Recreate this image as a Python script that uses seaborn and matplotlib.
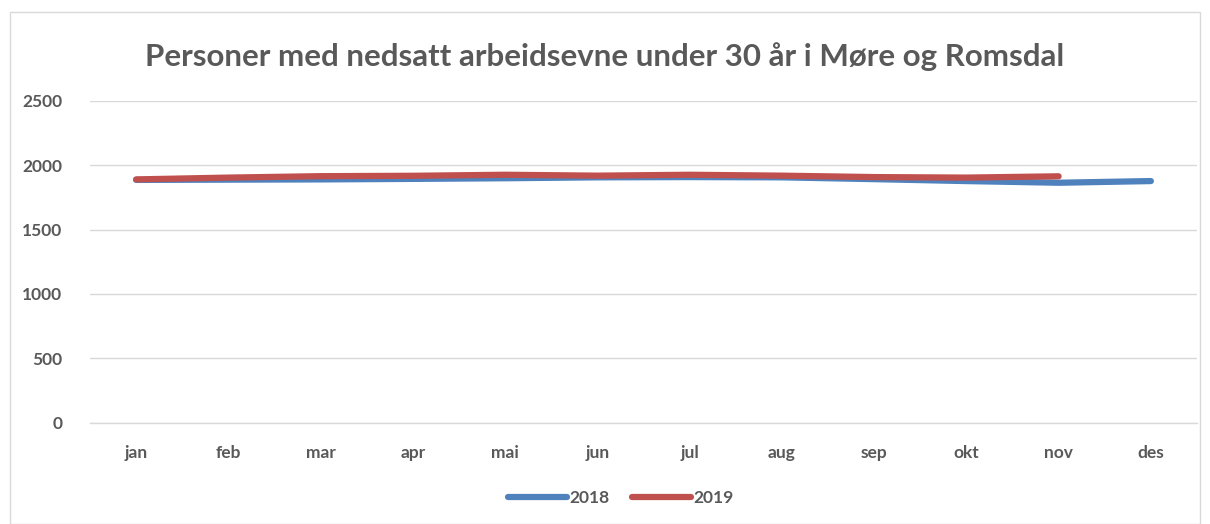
import matplotlib
matplotlib.use("Agg")
import matplotlib.pyplot as plt
import seaborn as sns
import pandas as pd
from matplotlib.patches import Rectangle
from matplotlib.lines import Line2D

months = ["jan", "feb", "mar", "apr", "mai", "jun", "jul", "aug", "sep", "okt", "nov", "des"]
values_2018 = [1885, 1887, 1889, 1893, 1898, 1905, 1907, 1905, 1891, 1876, 1863, 1876]
values_2019 = [1889, 1903, 1914, 1917, 1925, 1918, 1925, 1918, 1907, 1903, 1913]
years = ["2018", "2019"]
yticks = [0, 500, 1000, 1500, 2000, 2500]

rows = []
for m_i, v in enumerate(values_2018):
    rows.append({"x": m_i, "value": v, "year": years[0]})
for m_i, v in enumerate(values_2019):
    rows.append({"x": m_i, "value": v, "year": years[1]})
df = pd.DataFrame(rows)

sns.set_theme(style="white")
plt.rcParams["font.family"] = ["Lato", "DejaVu Sans"]

gray = "#595959"
fig = plt.figure(figsize=(12.10, 5.24), dpi=100)
ax = fig.add_axes([90 / 1210, 1 - 422.7 / 524, (1197 - 90) / 1210, (422.7 - 100.7) / 524])

sns.lineplot(data=df, x="x", y="value", hue="year", palette={"2018": "#4F81BD", "2019": "#C0504D"},
             linewidth=4.5, ax=ax, legend=False, solid_capstyle="round")

ax.set_xlim(-0.5, 11.5)
ax.set_ylim(0, 2500)
ax.set_yticks(yticks)
ax.set_yticklabels([str(t) for t in yticks], fontsize=12.5, fontweight="bold", color=gray)
ax.set_xticks(range(len(months)))
ax.set_xticklabels(months, fontsize=12.5, fontweight="bold", color=gray)
ax.tick_params(axis="both", length=0)
ax.tick_params(axis="x", pad=16)
ax.tick_params(axis="y", pad=20)
ax.set_xlabel("")
ax.set_ylabel("")
ax.grid(axis="y", color="#D9D9D9", linewidth=1)
ax.set_axisbelow(True)
for s in ["top", "right", "left"]:
    ax.spines[s].set_visible(False)
ax.spines["bottom"].set_color("#D9D9D9")
ax.spines["bottom"].set_linewidth(1)

fig.text(0.5, 1 - 57 / 524, "Personer med nedsatt arbeidsevne under 30 år i Møre og Romsdal",
         ha="center", va="center", fontsize=22.5, fontweight="bold", color=gray)

handles = [Line2D([0], [0], color="#4F81BD", lw=4.5, solid_capstyle="round"),
           Line2D([0], [0], color="#C0504D", lw=4.5, solid_capstyle="round")]
leg = fig.legend(handles, years, loc="center", bbox_to_anchor=(0.513, 1 - 498 / 524), ncol=2,
                 frameon=False, handlelength=3.4, columnspacing=1.3, handletextpad=0.15,
                 prop={"weight": "bold", "size": 12.5})
for t in leg.get_texts():
    t.set_color(gray)

fig.patches.append(Rectangle((10 / 1210, 0), 1190 / 1210, 1 - 12 / 524, transform=fig.transFigure,
                             fill=False, edgecolor="#D9D9D9", linewidth=1))

fig.savefig("out.png", dpi=100)
